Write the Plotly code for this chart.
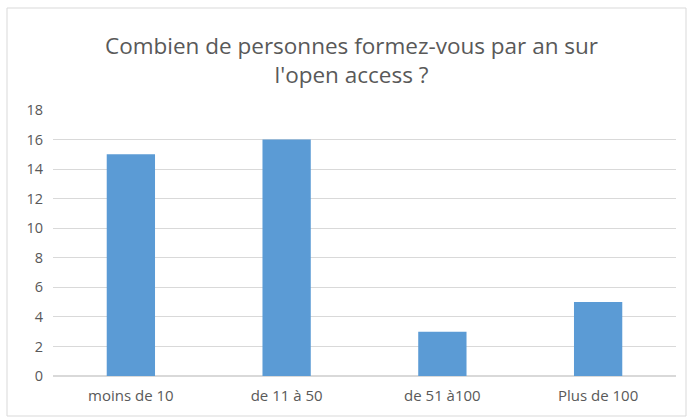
import plotly.graph_objects as go

# données
categories = ["moins de 10", "de 11 à 50", "de 51 à100", "Plus de 100"]
valeurs = [15, 16, 3, 5]
y_ticks = list(range(0, 19, 2))

TEXTE = "#595959"
GRILLE = "#D9D9D9"
BARRE = "#5B9BD5"

W, H = 687, 417
ML, MR, MT, MB = 53, 11, 110, 41
pw, ph = W - ML - MR, H - MT - MB


def px_to_paper(x, y):
    return (x - ML) / pw, (H - MB - y) / ph


fig = go.Figure()
fig.add_trace(go.Bar(x=categories, y=valeurs, marker_color=BARRE,
                     marker_line_width=0))

# cadre du graphique
x0, y0 = px_to_paper(7, 416)
x1, y1 = px_to_paper(686, 8)
fig.add_shape(type="rect", xref="paper", yref="paper",
              x0=x0, y0=y0, x1=x1, y1=y1,
              line=dict(color="#D9D9D9", width=1), layer="below")

# titre sur deux lignes
tx, ty = px_to_paper(351, 60)
fig.add_annotation(text="Combien de personnes formez-vous par an sur<br>l'open access ?",
                   xref="paper", yref="paper", x=tx, y=ty,
                   xanchor="center", yanchor="middle", showarrow=False,
                   font=dict(size=22.5, color=TEXTE))

fig.update_layout(
    width=W, height=H,
    paper_bgcolor="white", plot_bgcolor="white",
    margin=dict(l=ML, r=MR, t=MT, b=MB),
    font=dict(family="Open Sans", color=TEXTE, size=14),
    bargap=0.69,
    showlegend=False,
    xaxis=dict(showgrid=False, showline=False, ticks="outside", ticklen=6,
               tickcolor="white", tickfont=dict(size=15)),
    yaxis=dict(range=[0, 18], tickvals=y_ticks, gridcolor=GRILLE, gridwidth=1,
               zeroline=True, zerolinecolor=GRILLE, showline=False,
               tickfont=dict(size=14.5), ticklen=6, ticks="outside",
               tickcolor="white"),
)

fig.write_html("out.html", config={"displayModeBar": False},
               post_script="document.body.style.margin='0';")
